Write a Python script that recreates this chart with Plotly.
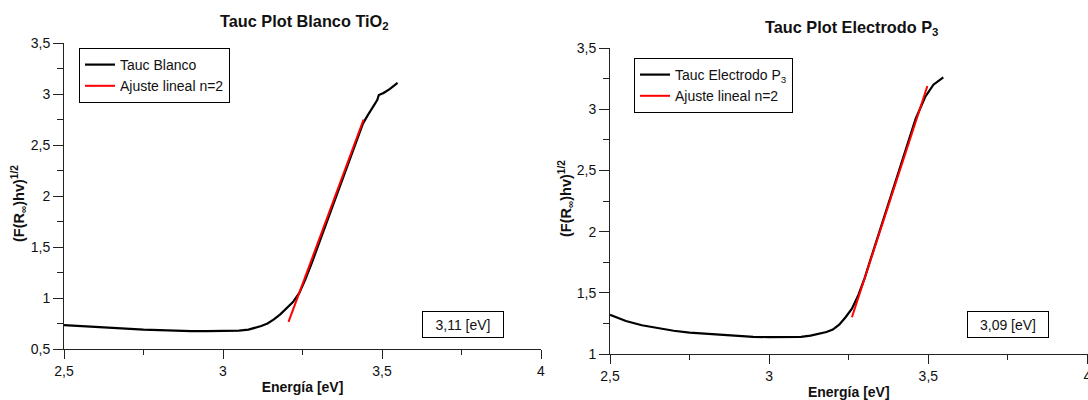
import plotly.graph_objects as go

# ---------------- data ----------------
blanco_energy = [2.50, 2.55, 2.60, 2.65, 2.70, 2.75, 2.80, 2.85, 2.90, 2.95, 3.00, 3.05,
                 3.08, 3.10, 3.12, 3.14, 3.16, 3.18, 3.20, 3.22, 3.24, 3.26, 3.28, 3.30,
                 3.32, 3.34, 3.36, 3.38, 3.40, 3.42, 3.44, 3.455, 3.47, 3.485, 3.49, 3.505,
                 3.525, 3.549]
blanco_tauc = [0.735, 0.725, 0.715, 0.705, 0.698, 0.690, 0.685, 0.678, 0.676, 0.676, 0.676, 0.680,
               0.690, 0.705, 0.725, 0.750, 0.790, 0.840, 0.900, 0.960, 1.050, 1.190, 1.350, 1.520,
               1.690, 1.860, 2.030, 2.200, 2.370, 2.550, 2.710, 2.790, 2.860, 2.940, 2.990, 3.010,
               3.050, 3.110]
blanco_fit_energy = [3.206, 3.442]
blanco_fit_tauc = [0.765, 2.750]
blanco_gap = 3.11

electrodo_energy = [2.50, 2.55, 2.60, 2.65, 2.70, 2.75, 2.80, 2.85, 2.90, 2.95, 3.00, 3.05,
                    3.10, 3.13, 3.16, 3.18, 3.20, 3.22, 3.24, 3.26, 3.28, 3.30, 3.32, 3.34,
                    3.36, 3.38, 3.40, 3.42, 3.44, 3.46, 3.49, 3.516, 3.547]
electrodo_tauc = [1.320, 1.270, 1.235, 1.210, 1.190, 1.175, 1.165, 1.155, 1.145, 1.140, 1.138, 1.138,
                  1.140, 1.150, 1.165, 1.180, 1.200, 1.240, 1.300, 1.370, 1.480, 1.620, 1.785, 1.950,
                  2.115, 2.275, 2.440, 2.610, 2.770, 2.920, 3.100, 3.200, 3.260]
electrodo_fit_energy = [3.260, 3.497]
electrodo_fit_tauc = [1.300, 3.190]
electrodo_gap = 3.09

x_tickvals = [2.5, 3.0, 3.5, 4.0]
x_ticktext = ["2,5", "3", "3,5", "4"]
x_minor = [2.75, 3.25, 3.75]
y1_tickvals = [0.5, 1.0, 1.5, 2.0, 2.5, 3.0, 3.5]
y1_ticktext = ["0,5", "1", "1,5", "2", "2,5", "3", "3,5"]
y1_minor = [0.75, 1.25, 1.75, 2.25, 2.75, 3.25]
y2_tickvals = [1.0, 1.5, 2.0, 2.5, 3.0, 3.5]
y2_ticktext = ["1", "1,5", "2", "2,5", "3", "3,5"]
y2_minor = [1.25, 1.75, 2.25, 2.75, 3.25]

FONT = "Liberation Sans, Arial, Helvetica, sans-serif"
AX = "#222222"

fig = go.Figure()
fig.add_trace(go.Scatter(x=blanco_energy, y=blanco_tauc, mode="lines", name="Tauc Blanco",
                         line=dict(color="black", width=2.2), xaxis="x", yaxis="y", legend="legend"))
fig.add_trace(go.Scatter(x=blanco_fit_energy, y=blanco_fit_tauc, mode="lines", name="Ajuste lineal n=2",
                         line=dict(color="#ff0000", width=2), xaxis="x", yaxis="y", legend="legend"))
fig.add_trace(go.Scatter(x=electrodo_energy, y=electrodo_tauc, mode="lines", name="Tauc Electrodo P<sub>3</sub>",
                         line=dict(color="black", width=2.2), xaxis="x2", yaxis="y2", legend="legend2"))
fig.add_trace(go.Scatter(x=electrodo_fit_energy, y=electrodo_fit_tauc, mode="lines", name="Ajuste lineal n=2",
                         line=dict(color="#ff0000", width=2), xaxis="x2", yaxis="y2", legend="legend2"))

def xaxis(domain, anchor):
    return dict(domain=domain, anchor=anchor, range=[2.5, 4.0], showgrid=False, zeroline=False,
                automargin=False, ticklabeloverflow="allow",
                showline=True, linecolor=AX, linewidth=1, ticks="outside", ticklen=9, tickcolor=AX,
                tickmode="array", tickvals=x_tickvals, ticktext=x_ticktext,
                tickfont=dict(size=14, color="#111111"),
                minor=dict(tickmode="array", tickvals=x_minor, ticks="outside", ticklen=5, tickcolor=AX),
                title=dict(text="<b>Energía [eV]</b>", font=dict(size=14, color="#111111"), standoff=4))

def yaxis(domain, anchor, rng, tv, tt, mv):
    return dict(domain=domain, anchor=anchor, range=rng, showgrid=False, zeroline=False,
                automargin=False, ticklabeloverflow="allow",
                showline=True, linecolor=AX, linewidth=1, ticks="outside", ticklen=10, tickcolor=AX,
                tickmode="array", tickvals=tv, ticktext=tt, tickfont=dict(size=14, color="#111111"),
                minor=dict(tickmode="array", tickvals=mv, ticks="outside", ticklen=6, tickcolor=AX))

fig.update_layout(
    width=1088, height=400, margin=dict(l=0, r=0, t=0, b=0, autoexpand=False),
    paper_bgcolor="white", plot_bgcolor="white",
    font=dict(family=FONT, color="#111111"),
    separators=",.",
    xaxis=xaxis([64 / 1088, 541 / 1088], "y"),
    yaxis=yaxis([51 / 400, 357 / 400], "x", [0.5, 3.5], y1_tickvals, y1_ticktext, y1_minor),
    xaxis2=xaxis([610 / 1088, 1087.5 / 1088], "y2"),
    yaxis2=yaxis([46 / 400, 352 / 400], "x2", [1.0, 3.5], y2_tickvals, y2_ticktext, y2_minor),
    legend=dict(x=79 / 1088, y=1 - 48 / 400, xanchor="left", yanchor="top",
                bordercolor="black", borderwidth=1, bgcolor="white",
                font=dict(size=14), itemwidth=30, tracegroupgap=0),
    legend2=dict(x=634 / 1088, y=1 - 58 / 400, xanchor="left", yanchor="top",
                 bordercolor="black", borderwidth=1, bgcolor="white",
                 font=dict(size=14), itemwidth=30, tracegroupgap=0),
    showlegend=True,
)

annotations = [
    dict(text="<b>Tauc Plot Blanco TiO<sub>2</sub></b>", x=304 / 1088, y=1 - 22 / 400,
         xref="paper", yref="paper", xanchor="center", yanchor="middle",
         showarrow=False, font=dict(size=16.3)),
    dict(text="<b>Tauc Plot Electrodo P<sub>3</sub></b>", x=851 / 1088, y=1 - 28 / 400,
         xref="paper", yref="paper", xanchor="center", yanchor="middle",
         showarrow=False, font=dict(size=16.3)),
    dict(text="<b>(F(R<sub>∞</sub>)hv)<sup>1/2</sup></b>", x=19 / 1088, y=1 - 204 / 400,
         xref="paper", yref="paper", xanchor="center", yanchor="middle",
         showarrow=False, textangle=-90, font=dict(size=14.5)),
    dict(text="<b>(F(R<sub>∞</sub>)hv)<sup>1/2</sup></b>", x=566 / 1088, y=1 - 199 / 400,
         xref="paper", yref="paper", xanchor="center", yanchor="middle",
         showarrow=False, textangle=-90, font=dict(size=14.5)),
    dict(text=f"{blanco_gap:.2f}".replace(".", ",") + " [eV]", x=463 / 1088, y=1 - 324.5 / 400,
         xref="paper", yref="paper", xanchor="center", yanchor="middle",
         showarrow=False, font=dict(size=14),
         bordercolor="black", borderwidth=1, width=78, height=23, bgcolor="white"),
    dict(text=f"{electrodo_gap:.2f}".replace(".", ",") + " [eV]", x=1008 / 1088, y=1 - 324.5 / 400,
         xref="paper", yref="paper", xanchor="center", yanchor="middle",
         showarrow=False, font=dict(size=14),
         bordercolor="black", borderwidth=1, width=78, height=23, bgcolor="white"),
]
fig.update_layout(annotations=annotations)

fig.write_html("out.html")
